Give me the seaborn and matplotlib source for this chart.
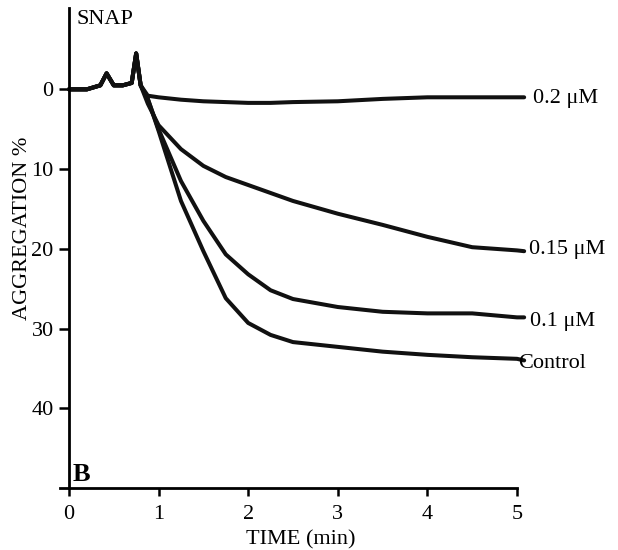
import pandas as pd
import numpy as np
import matplotlib.pyplot as plt
import seaborn as sns

# -----------------------------
# DATA
# -----------------------------

time_min = [0.0, 0.2, 0.35, 0.42, 0.5, 0.6, 0.7, 0.75, 0.8, 0.88,
            1.0, 1.25, 1.5, 1.75, 2.0, 2.25, 2.5, 3.0, 3.5, 4.0,
            4.5, 5.0, 5.08]

baseline = [0, 0, -0.5, -2.0, -0.5, -0.5, -0.8, -4.5, -0.5]

agg_02 = baseline + [0.8, 1.0, 1.3, 1.5, 1.6, 1.7, 1.7, 1.6, 1.5,
                     1.2, 1.0, 1.0, 1.0, 1.0]
agg_015 = baseline + [1.8, 4.5, 7.5, 9.6, 11.0, 12.0, 13.0, 14.0, 15.6,
                      17.0, 18.5, 19.8, 20.2, 20.3]
agg_01 = baseline + [1.2, 5.0, 11.5, 16.5, 20.7, 23.2, 25.2, 26.3, 27.3,
                     27.9, 28.1, 28.1, 28.6, 28.6]
agg_ctrl = baseline + [1.2, 5.2, 14.0, 20.3, 26.2, 29.3, 30.8, 31.7, 32.3,
                       32.9, 33.3, 33.6, 33.8, 34.0]

series_names = ['0.2 μM', '0.15 μM', '0.1 μM', 'Control']
series_values = [agg_02, agg_015, agg_01, agg_ctrl]

# label anchor (x, baseline y) in data units
label_x = [5.18, 5.13, 5.14, 5.01]
label_y = [1.75, 20.7, 29.7, 35.0]

y_ticks = [0, 10, 20, 30, 40]
x_ticks = [0, 1, 2, 3, 4, 5]

# -----------------------------
# LONG FORMAT TABLE
# -----------------------------

df = pd.concat(
    [
        pd.DataFrame({'time': time_min, 'agg': vals, 'series': name})
        for name, vals in zip(series_names, series_values)
    ],
    ignore_index=True
)

# -----------------------------
# PLOT
# -----------------------------

sns.set_style('ticks')
plt.rcParams['font.family'] = ['Liberation Serif', 'DejaVu Serif']
plt.rcParams['text.color'] = 'black'
plt.rcParams['axes.labelcolor'] = 'black'

fig = plt.figure(figsize=(6.18, 5.5), dpi=100)
ax = fig.add_axes([60 / 618, 1 - 488 / 550, 457 / 618, 480 / 550])

sns.lineplot(
    data=df,
    x='time',
    y='agg',
    hue='series',
    palette=['#111111'] * 4,
    estimator=None,
    linewidth=2.9,
    legend=False,
    ax=ax
)

for line in ax.lines:
    line.set_clip_on(False)

ax.set_xlim(-0.1, 5.0)
ax.set_ylim(50, -10.2)

ax.spines['top'].set_visible(False)
ax.spines['right'].set_visible(False)
ax.spines['left'].set_position(('data', 0))
for side in ['left', 'bottom']:
    ax.spines[side].set_linewidth(2.0)
    ax.spines[side].set_color('black')

ax.set_xticks(x_ticks)
ax.set_yticks(y_ticks)
ax.tick_params(axis='both', labelsize=16, colors='black',
               width=1.8, direction='out')
ax.tick_params(axis='y', length=7.5, pad=3.5)
ax.tick_params(axis='x', length=6, pad=6)

ax.set_xlabel('TIME (min)', fontsize=16)
ax.set_ylabel('AGGREGATION %', fontsize=16)
ax.xaxis.set_label_coords(301 / 618, 1 - 530 / 550, transform=fig.transFigure)
ax.yaxis.set_label_coords(32 / 618, 1 - 228 / 550, transform=fig.transFigure)

for name, lx, ly in zip(series_names, label_x, label_y):
    ax.text(lx, ly, name, fontsize=16, ha='left', va='baseline')

ax.text(77 / 618, 1 - 24 / 550, 'SNAP', fontsize=16,
        ha='left', va='baseline', transform=fig.transFigure)
ax.text(73 / 618, 1 - 481 / 550, 'B', fontsize=19, fontweight='bold',
        ha='left', va='baseline', transform=fig.transFigure)

fig.savefig('out.png', dpi=100)
